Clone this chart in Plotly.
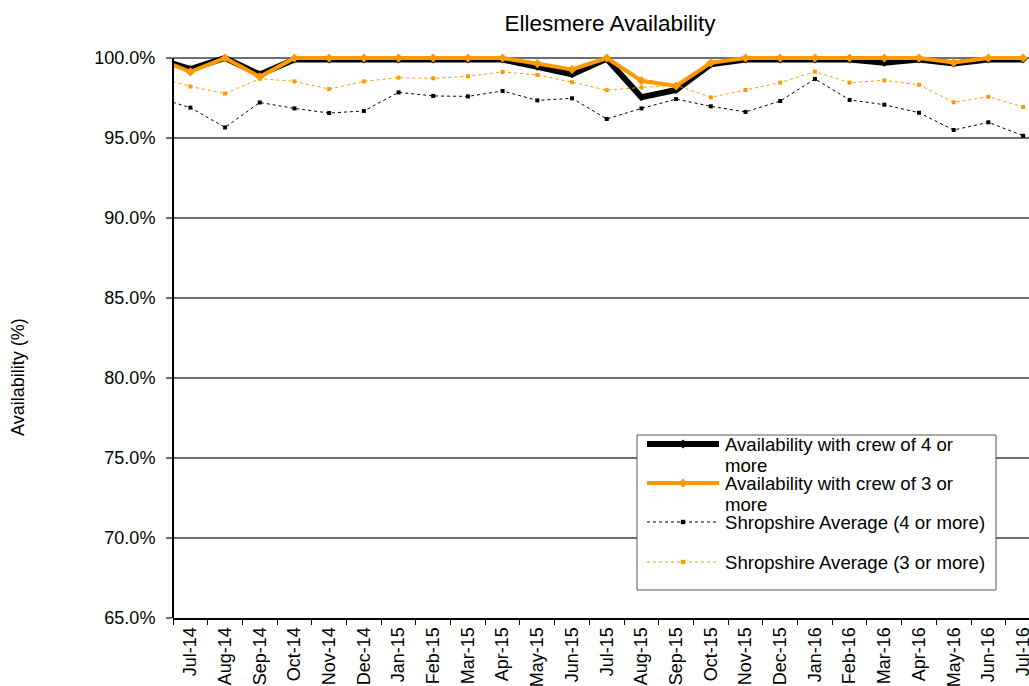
import plotly.graph_objects as go

# Monthly figures (Jun-14 sits just left of the visible window)
months = ["Jun-14", "Jul-14", "Aug-14", "Sep-14", "Oct-14", "Nov-14", "Dec-14",
          "Jan-15", "Feb-15", "Mar-15", "Apr-15", "May-15", "Jun-15", "Jul-15",
          "Aug-15", "Sep-15", "Oct-15", "Nov-15", "Dec-15", "Jan-16", "Feb-16",
          "Mar-16", "Apr-16", "May-16", "Jun-16", "Jul-16"]

crew4 = [100.0, 99.3, 100.0, 98.97, 99.9, 99.9, 99.9, 99.9, 99.9, 99.9, 99.9,
         99.45, 98.98, 99.95, 97.55, 98.0, 99.6, 99.9, 99.9, 99.9, 99.9,
         99.7, 99.9, 99.65, 99.9, 99.9]

crew3 = [100.0, 99.13, 100.0, 98.82, 100.0, 100.0, 100.0, 100.0, 100.0, 100.0, 100.0,
         99.65, 99.28, 100.0, 98.58, 98.25, 99.7, 100.0, 100.0, 100.0, 100.0,
         100.0, 100.0, 99.72, 100.0, 100.0]

shrop4 = [97.55, 96.9, 95.66, 97.22, 96.85, 96.56, 96.69, 97.85, 97.63, 97.6, 97.94,
          97.35, 97.48, 96.19, 96.85, 97.43, 96.98, 96.63, 97.31, 98.69, 97.38,
          97.08, 96.58, 95.5, 95.98, 95.14]

shrop3 = [98.87, 98.22, 97.78, 98.71, 98.54, 98.06, 98.54, 98.77, 98.73, 98.86, 99.13,
          98.94, 98.49, 97.99, 98.16, 98.3, 97.54, 98.0, 98.46, 99.15, 98.46,
          98.6, 98.33, 97.23, 97.58, 96.94]

series_names = ["Availability with crew of 4 or<br>more",
                "Availability with crew of 3 or<br>more",
                "Shropshire Average (4 or more)",
                "Shropshire Average (3 or more)"]

y_ticks = [65, 70, 75, 80, 85, 90, 95, 100]

ORANGE = "#FF9900"
FONT = "Liberation Sans, Arial, sans-serif"

W, H = 1029, 686
L, R, T, B = 173, 0, 52, 68
PW, PH = W - L - R, H - T - B


def fx(px):
    return (px - L) / PW


def fy(py):
    return (H - B - py) / PH


styles = [
    dict(color="black", width=6, dash="solid", symbol="diamond", size=6),
    dict(color=ORANGE, width=4, dash="solid", symbol="diamond", size=7),
    dict(color="black", width=1, dash="dot", symbol="square", size=4),
    dict(color=ORANGE, width=1, dash="dot", symbol="square", size=4),
]

fig = go.Figure()
for vals, name, st in zip([crew4, crew3, shrop4, shrop3], series_names, styles):
    fig.add_trace(go.Scatter(
        x=months, y=vals, mode="lines+markers", name=name.replace("<br>", " "),
        line=dict(color=st["color"], width=st["width"], dash=st["dash"]),
        marker=dict(symbol=st["symbol"], size=st["size"], color=st["color"],
                    line=dict(width=0)),
        showlegend=False,
    ))

shapes = []
annotations = []

# y-axis line from 65% to 100%
shapes.append(dict(type="line", xref="paper", yref="y", x0=0, x1=0, y0=65, y1=100,
                   line=dict(color="black", width=2), layer="above"))

# legend panel
shapes.append(dict(type="rect", xref="paper", yref="paper",
                   x0=fx(637), x1=fx(996), y0=fy(590), y1=fy(435),
                   fillcolor="white", line=dict(color="#555555", width=1), layer="above"))

entry_y = [444, 483, 522, 562]
for name, st, ey in zip(series_names, styles, entry_y):
    shapes.append(dict(type="line", xref="paper", yref="paper",
                       x0=fx(647), x1=fx(719), y0=fy(ey), y1=fy(ey),
                       line=dict(color=st["color"], width=st["width"],
                                 dash=st["dash"]), layer="above"))
    cx, cy = 683, ey
    if st["symbol"] == "diamond":
        r = 4.5
        path = (f"M {fx(cx - r)} {fy(cy)} L {fx(cx)} {fy(cy - r)} "
                f"L {fx(cx + r)} {fy(cy)} L {fx(cx)} {fy(cy + r)} Z")
    else:
        r = 2.2
        path = (f"M {fx(cx - r)} {fy(cy - r)} L {fx(cx + r)} {fy(cy - r)} "
                f"L {fx(cx + r)} {fy(cy + r)} L {fx(cx - r)} {fy(cy + r)} Z")
    shapes.append(dict(type="path", xref="paper", yref="paper", path=path,
                       fillcolor=st["color"], line=dict(width=0), layer="above"))
    for k, part in enumerate(name.split("<br>")):
        annotations.append(dict(text=part, xref="paper", yref="paper",
                                x=fx(723), y=fy(ey + 21 * k),
                                xanchor="left", yanchor="middle", showarrow=False,
                                font=dict(family=FONT, size=18.6, color="black")))

# y-axis title
annotations.append(dict(text="Availability (%)", xref="paper", yref="paper",
                        x=fx(18), y=fy(377), textangle=-90, showarrow=False,
                        xanchor="center", yanchor="middle",
                        font=dict(family=FONT, size=18, color="black")))

fig.update_layout(
    width=W, height=H,
    margin=dict(l=L, r=R, t=T, b=B, autoexpand=False),
    paper_bgcolor="white", plot_bgcolor="white",
    font=dict(family=FONT, size=18, color="black"),
    title=dict(text="Ellesmere Availability", x=610 / W, xanchor="center",
               y=1 - 23 / H, yanchor="middle", xref="container", yref="container",
               font=dict(family=FONT, size=22.5, color="black")),
    xaxis=dict(type="category", categoryorder="array", categoryarray=months,
               range=[0.5, 25.17], tickangle=-90, tickson="boundaries",
               ticks="outside", ticklen=5, tickcolor="black", tickwidth=1,
               showline=True, linecolor="black", linewidth=2,
               showgrid=False, zeroline=False, automargin=False,
               tickfont=dict(family=FONT, size=18, color="black")),
    yaxis=dict(range=[65, 100.375], tickvals=y_ticks,
               ticktext=[f"{v:.1f}%" for v in y_ticks],
               ticks="outside", ticklen=6, tickcolor="#6f6f6f", tickwidth=1.5,
               showgrid=True, gridcolor="#6f6f6f", gridwidth=1.5,
               showline=False, zeroline=False, automargin=False,
               ticklabelstandoff=7,
               tickfont=dict(family=FONT, size=18, color="black")),
    shapes=shapes,
    annotations=annotations,
    hovermode=False,
)

fig.write_html("out.html")
